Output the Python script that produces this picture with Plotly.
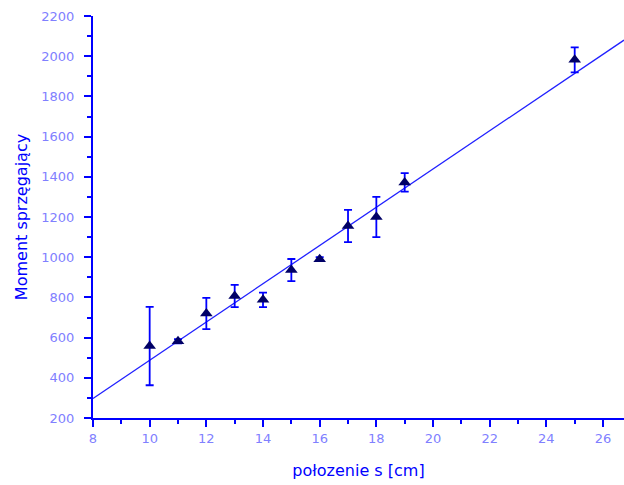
import plotly.graph_objects as go

# data
s_cm = [10, 11, 12, 13, 14, 15, 16, 17, 18, 19, 25]
moment = [558, 582, 720, 807, 788, 936, 990, 1155, 1200, 1372, 1982]
moment_err = [195, 10, 78, 55, 36, 55, 10, 80, 100, 46, 62]

fit_x = [8, 26.74]
fit_y = [297, 2080]

x_ticks = [8, 10, 12, 14, 16, 18, 20, 22, 24, 26]
y_ticks = [200, 400, 600, 800, 1000, 1200, 1400, 1600, 1800, 2000, 2200]

AX = "#0000FF"
TICK = "#8080FF"
FONT = "DejaVu Sans"

fig = go.Figure()
fig.add_trace(go.Scatter(
    x=fit_x, y=fit_y, mode="lines",
    line=dict(color="#2020FF", width=1.3), showlegend=False, hoverinfo="skip"))
fig.add_trace(go.Scatter(
    x=s_cm, y=moment, mode="markers",
    marker=dict(symbol="triangle-up", size=11, color="#000066"),
    error_y=dict(type="data", array=moment_err, visible=True,
                 color=AX, thickness=1.8, width=4),
    showlegend=False))

axis_common = dict(
    showgrid=False, zeroline=False, showline=True, linecolor=AX, linewidth=2,
    ticks="outside", tickcolor=AX, tickwidth=2, ticklen=7,
    tickfont=dict(family=FONT, size=13, color=TICK),
)

fig.update_xaxes(
    range=[8, 26.74], tickvals=x_ticks,
    minor=dict(ticks="outside", tickcolor=AX, tickwidth=2, ticklen=4, dtick=1),
    title=dict(text="połozenie s [cm]", font=dict(family=FONT, size=16, color=AX), standoff=20),
    **axis_common)
fig.update_yaxes(
    range=[200, 2200], tickvals=y_ticks, ticklabelstandoff=7,
    minor=dict(ticks="outside", tickcolor=AX, tickwidth=2, ticklen=4, dtick=100),
    title=dict(text="Moment sprzęgający", font=dict(family=FONT, size=16, color=AX), standoff=10),
    **axis_common)

fig.update_layout(
    width=624, height=485,
    margin=dict(l=93, r=0, t=16, b=67),
    plot_bgcolor="white", paper_bgcolor="white",
)
fig.write_html(
    "out.html",
    config={"displayModeBar": False},
    post_script="document.body.style.margin='0';document.body.style.overflow='hidden';",
)
